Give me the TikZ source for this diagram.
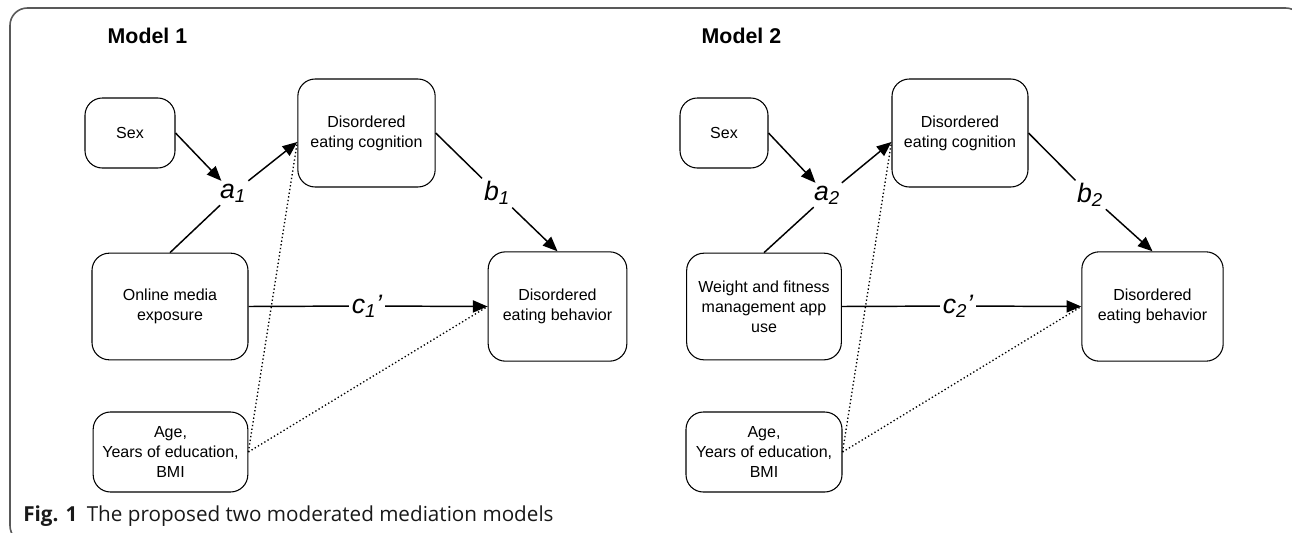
\documentclass[tikz,border=0pt]{standalone}
\usepackage{fontspec}
\setmainfont{Liberation Sans}
\newfontfamily\capfont{Open Sans}
\usetikzlibrary{arrows.meta,calc}

\tikzset{
  box/.style={draw, rounded corners=13pt, line width=0.8pt, align=center,
    inner sep=0pt, font=\fontsize{12}{15}\selectfont},
  effect/.style={line width=1.1pt, -{Triangle[length=11pt,width=9pt]}},
  plain/.style={line width=1.1pt},
  covar/.style={line width=1pt, dash pattern=on 1pt off 1.8pt},
  coef/.style={inner sep=2pt, font=\fontsize{20}{24}\selectfont\itshape},
  model/.style={anchor=base west, font=\fontsize{16}{19}\selectfont\bfseries}
}

\begin{document}
\begin{tikzpicture}[x=0.75pt,y=-0.75pt]
\useasboundingbox (0,0) rectangle (1292,532);
\fill[white] (0,0) rectangle (1292,532);
\draw[black!65, line width=1.2pt, rounded corners=13pt] (10,8) rectangle (1303,543);

% Model 1
\node[model] (title1) at (103,43) {Model 1};
\node[box, minimum width=67.5pt, minimum height=52.5pt] (sex1) at (130,133) {Sex};
\node[box, minimum width=103pt, minimum height=81pt] (cog1) at (366.5,133) {Disordered\\eating cognition};
\node[box, minimum width=117pt, minimum height=80pt] (med1) at (170,306.5) {Online media\\exposure};
\node[box, minimum width=104pt, minimum height=82pt] (beh1) at (557.5,306.5) {Disordered\\eating behavior};
\node[box, minimum width=116pt, minimum height=60pt] (cov1) at (170.5,452) {Age,\\Years of education,\\BMI};
\node[coef] (a1) at (233,193) {a\textsubscript{1}};
\node[coef] (b1) at (497,193) {b\textsubscript{1}};
\node[coef] (c1) at (367,306) {c\textsubscript{1}’};
\coordinate (cin1) at ($(cog1.west)+(0,9)$);

\draw[covar] (cov1.east) -- (cin1);
\draw[covar] (cov1.east) -- (beh1.west);
\draw[effect] (sex1.east) -- (a1);
\draw[plain] (med1.north) -- (a1);
\draw[effect] (a1) -- (cin1);
\draw[plain] (cog1.east) -- (b1);
\draw[effect] (b1) -- (beh1.north);
\draw[plain] (med1.east) -- (c1);
\draw[effect] (c1) -- (beh1.west);

% Model 2
\node[model] (title2) at (697,43) {Model 2};
\node[box, minimum width=66pt, minimum height=52.5pt] (sex2) at (724,133) {Sex};
\node[box, minimum width=102pt, minimum height=81pt] (cog2) at (960,133) {Disordered\\eating cognition};
\node[box, minimum width=116pt, minimum height=80pt] (med2) at (764,306.5) {Weight and fitness\\management app\\use};
\node[box, minimum width=106pt, minimum height=82pt] (beh2) at (1152.5,306.5) {Disordered\\eating behavior};
\node[box, minimum width=117pt, minimum height=60pt] (cov2) at (764,452) {Age,\\Years of education,\\BMI};
\node[coef] (a2) at (827,195) {a\textsubscript{2}};
\node[coef] (b2) at (1090,195) {b\textsubscript{2}};
\node[coef] (c2) at (958,306) {c\textsubscript{2}’};
\coordinate (cin2) at ($(cog2.west)+(0,9)$);

\draw[covar] (cov2.east) -- (cin2);
\draw[covar] (cov2.east) -- (beh2.west);
\draw[effect] (sex2.east) -- (a2);
\draw[plain] (med2.north) -- (a2);
\draw[effect] (a2) -- (cin2);
\draw[plain] (cog2.east) -- (b2);
\draw[effect] (b2) -- (beh2.north);
\draw[plain] (med2.east) -- (c2);
\draw[effect] (c2) -- (beh2.west);

% caption
\node[anchor=base west, inner sep=0pt, font=\capfont\fontsize{15.5}{18}\selectfont, text=black!90] (caption) at (23,521)
  {\textbf{Fig. 1}\hspace{7pt}The proposed two moderated mediation models};
\end{tikzpicture}
\end{document}
